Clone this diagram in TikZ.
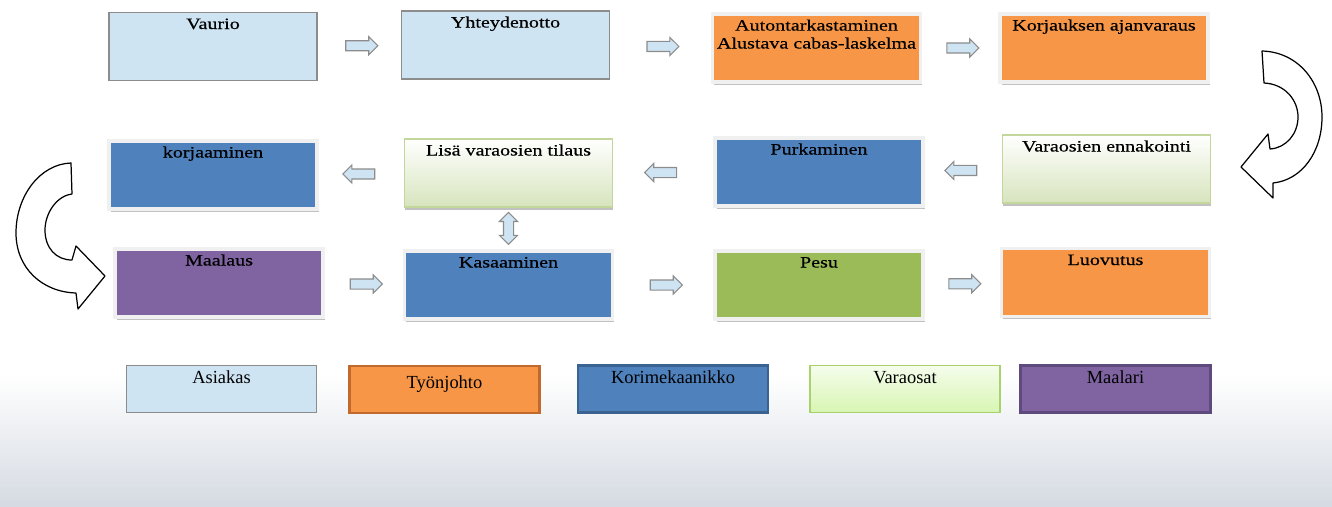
\documentclass[tikz,border=0pt]{standalone}
\usepackage{fontspec}
\setmainfont{Liberation Serif}
\newfontfamily\boxfont[FakeStretch=1.27,FakeBold=0.4]{Liberation Serif}
\usetikzlibrary{shapes.arrows,shadows}

\definecolor{skyfill}{HTML}{CFE4F3}
\definecolor{skyline}{HTML}{8C8C8C}
\definecolor{orangefill}{HTML}{F79646}
\definecolor{orangeline}{HTML}{C2692E}
\definecolor{bluefill}{HTML}{4F81BD}
\definecolor{blueline}{HTML}{3A6391}
\definecolor{purplefill}{HTML}{8064A2}
\definecolor{purpleline}{HTML}{5E4A7C}
\definecolor{greenfill}{HTML}{9BBB59}
\definecolor{palegreen}{HTML}{D7E4BD}
\definecolor{paleline}{HTML}{C3D69B}
\definecolor{limetop}{HTML}{F5FDEC}
\definecolor{limebottom}{HTML}{D8F5B2}
\definecolor{limeline}{HTML}{A9D26E}
\definecolor{framegray}{HTML}{F0F0F0}
\definecolor{bgbottom}{HTML}{D5DAE2}

\tikzset{
  box/.style={minimum width=4.16cm, inner xsep=0pt, inner ysep=0.08cm,
    text height=0.25cm, text depth=0.95cm, align=center,
    font=\boxfont\fontsize{9}{10.2}\selectfont},
  skybox/.style={box, fill=skyfill, draw=skyline, line width=0.8pt},
  framebox/.style={box, fill=#1, draw=framegray, line width=2pt,
    drop shadow={shadow xshift=1pt, shadow yshift=-1.5pt, fill=gray!60, opacity=0.8}},
  fadebox/.style={box, top color=white, bottom color=palegreen, draw=paleline,
    line width=0.8pt, drop shadow={shadow xshift=0.5pt, shadow yshift=-1.5pt, fill=gray!60, opacity=0.8}},
  keybox/.style={minimum width=3.8cm, inner xsep=0pt, inner ysep=0.1cm,
    text height=0.26cm, text depth=0.48cm, font=\fontsize{10.5}{12}\selectfont},
  rarrow/.style={single arrow, draw=skyline, fill=skyfill, line width=0.6pt,
    minimum height=0.64cm, inner sep=0.09cm, single arrow head extend=0.08cm,
    single arrow head indent=0cm},
  larrow/.style={rarrow, shape border rotate=180},
  udarrow/.style={double arrow, draw=skyline, fill=skyfill, line width=0.6pt,
    minimum height=0.64cm, inner sep=0.09cm, double arrow head extend=0.08cm,
    double arrow head indent=0cm, shape border rotate=90},
  hollow/.style={fill=white, draw=black, line width=0.7pt, line join=round}
}

\begin{document}
\begin{tikzpicture}[x=0.02cm, y=-0.02cm]
\useasboundingbox (0,0) rectangle (1332,507);
\shade[top color=white, bottom color=bgbottom] (0,375) rectangle (1332,507);

% top row
\node[skybox] (a1) at (213,46.5) {Vaurio};
\node[skybox] (a2) at (505.5,45) {Yhteydenotto};
\node[framebox=orangefill, text height=0.61cm, text depth=0.59cm] (a3) at (816.5,48) {Autontarkastaminen\\Alustava cabas-laskelma};
\node[framebox=orangefill] (a4) at (1104,48) {Korjauksen ajanvaraus};

% middle row
\node[framebox=bluefill] (b1) at (213,175) {korjaaminen};
\node[fadebox] (b2) at (508.5,173) {Lisä varaosien tilaus};
\node[framebox=bluefill] (b3) at (819,172) {Purkaminen};
\node[fadebox] (b4) at (1106.5,169) {Varaosien ennakointi};

% bottom row
\node[framebox=purplefill] (c1) at (219,283) {Maalaus};
\node[framebox=bluefill] (c2) at (508.5,285) {Kasaaminen};
\node[framebox=greenfill] (c3) at (819,285) {Pesu};
\node[framebox=orangefill] (c4) at (1105.5,282.5) {Luovutus};

% block arrows
\path (a1) -- node[rarrow] (r1) {} (a2);
\path (a2) -- node[rarrow] (r2) {} (a3);
\path (a3) -- node[rarrow] (r3) {} (a4);
\path (b4) -- node[larrow] (r4) {} (b3);
\path (b3) -- node[larrow] (r5) {} (b2);
\path (b2) -- node[larrow] (r6) {} (b1);
\path (c1) -- node[rarrow] (r7) {} (c2);
\path (c2) -- node[rarrow] (r8) {} (c3);
\path (c3) -- node[rarrow] (r9) {} (c4);
\path (b2) -- node[udarrow] (r10) {} (c2);

% curved arrows
\draw[hollow] (1262,51) -- (1264,83)
  .. controls (1285,84) and (1298,100) .. (1298,117)
  .. controls (1298,134) and (1286,148) .. (1270,149)
  -- (1268,134) -- (1241,167) -- (1273,198) -- (1273,183)
  .. controls (1302,180) and (1322,152) .. (1322,117)
  .. controls (1322,82) and (1298,52) .. cycle;
\draw[hollow] (71,163) -- (72,194)
  .. controls (56,196) and (45,214) .. (45,230)
  .. controls (45,248) and (56,260) .. (72,260)
  -- (76,246) -- (105,276) -- (78,309) -- (76,293)
  .. controls (42,292) and (16,268) .. (16,233)
  .. controls (16,196) and (40,164) .. cycle;

% legend
\node[keybox, fill=skyfill, draw=skyline, line width=0.8pt] (l1) at (221.5,389) {Asiakas};
\node[keybox, fill=orangefill, draw=orangeline, line width=1.5pt, text height=0.34cm, text depth=0.40cm] (l2) at (444.5,389.5) {Työnjohto};
\node[keybox, fill=bluefill, draw=blueline, line width=1.5pt] (l3) at (673,389) {Korimekaanikko};
\node[keybox, top color=limetop, bottom color=limebottom, draw=limeline, line width=0.8pt] (l4) at (905,389) {Varaosat};
\node[keybox, fill=purplefill, draw=purpleline, line width=1.5pt] (l5) at (1115.5,389) {Maalari};
\end{tikzpicture}
\end{document}
